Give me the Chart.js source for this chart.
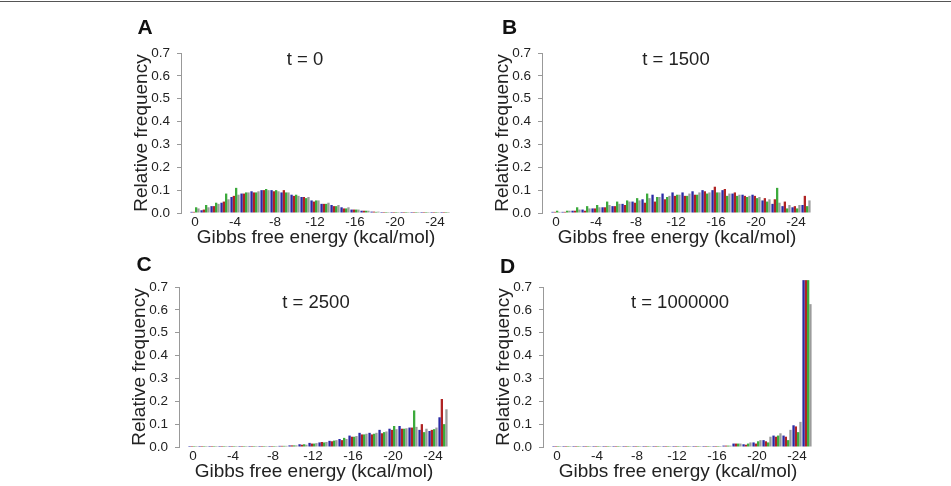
<!DOCTYPE html>
<html>
<head>
<meta charset="utf-8">
<script src="https://cdn.jsdelivr.net/npm/chart.js@4.4.1/dist/chart.umd.min.js"></script>
<style>
  html, body { margin: 0; padding: 0; background: #fff; }
  body { width: 951px; height: 486px; position: relative; overflow: hidden; font-family: "Liberation Sans", Arial, sans-serif; color: #222; }
  .frame { position: absolute; left: 0; top: 1px; width: 951px; height: 0; border-top: 1px solid #555; }
  .pan { position: absolute; }
  .lbl { position: absolute; transform: translate(-50%, -50%); line-height: 1; white-space: nowrap; }
  .letter { font-weight: bold; font-size: 21px; color: #111; }
  .ttl { font-size: 18.5px; color: #222; }
</style>
</head>
<body>
<div class="frame"></div>
<canvas id="cA" class="pan" width="340" height="240" style="left:125px;top:10px"></canvas>
<canvas id="cB" class="pan" width="340" height="240" style="left:486px;top:10px"></canvas>
<canvas id="cC" class="pan" width="340" height="240" style="left:123px;top:244px"></canvas>
<canvas id="cD" class="pan" width="340" height="240" style="left:487px;top:244px"></canvas>

<div class="lbl letter" style="left:145px;top:25.5px">A</div>
<div class="lbl letter" style="left:509.5px;top:25.5px">B</div>
<div class="lbl letter" style="left:144px;top:263px">C</div>
<div class="lbl letter" style="left:507.5px;top:265px">D</div>

<div class="lbl ttl" style="left:305px;top:59px">t = 0</div>
<div class="lbl ttl" style="left:676px;top:59px">t = 1500</div>
<div class="lbl ttl" style="left:316px;top:302px">t = 2500</div>
<div class="lbl ttl" style="left:680px;top:302px">t = 1000000</div>

<script>
// ---- data ----
const bins = [0,-1,-2,-3,-4,-5,-6,-7,-8,-9,-10,-11,-12,-13,-14,-15,-16,-17,-18,-19,-20,-21,-22,-23,-24,-25];
const xTicks = [0,-4,-8,-12,-16,-20,-24];
const yTicks = [0,0.1,0.2,0.3,0.4,0.5,0.6,0.7];
const seriesNames = ['Run 1','Run 2','Run 3','Run 4'];

// t = 0
const t0Blue  = [0.005,0.012,0.03,0.045,0.07,0.085,0.095,0.1,0.1,0.09,0.08,0.07,0.055,0.04,0.035,0.025,0.015,0.01,0.006,0.004,0.002,0.001,0.001,0.0005,0.0005,0.0005];
const t0Red   = [0.005,0.015,0.03,0.05,0.075,0.085,0.09,0.1,0.095,0.1,0.075,0.07,0.05,0.04,0.03,0.02,0.015,0.01,0.006,0.003,0.002,0.001,0.001,0.0005,0.0005,0.0005];
const t0Green = [0.025,0.035,0.045,0.085,0.11,0.09,0.09,0.105,0.1,0.09,0.08,0.065,0.055,0.04,0.03,0.02,0.015,0.01,0.005,0.003,0.002,0.001,0.001,0.0005,0.0005,0.0005];
const t0Gray  = [0.02,0.025,0.04,0.06,0.08,0.09,0.095,0.1,0.095,0.09,0.075,0.07,0.055,0.045,0.035,0.025,0.015,0.01,0.006,0.004,0.002,0.001,0.001,0.0005,0.0005,0.0005];

// t = 1500
const t1500Blue  = [0.005,0.005,0.01,0.015,0.02,0.025,0.03,0.04,0.05,0.06,0.08,0.085,0.09,0.09,0.095,0.1,0.1,0.1,0.085,0.08,0.08,0.055,0.04,0.03,0.025,0.035];
const t1500Red   = [0.005,0.005,0.01,0.01,0.02,0.025,0.03,0.035,0.045,0.045,0.05,0.06,0.075,0.075,0.08,0.095,0.115,0.105,0.09,0.075,0.075,0.065,0.06,0.05,0.03,0.075];
const t1500Green = [0.01,0.01,0.025,0.03,0.035,0.05,0.05,0.055,0.065,0.085,0.07,0.07,0.08,0.075,0.08,0.085,0.09,0.075,0.075,0.07,0.065,0.05,0.11,0.02,0.02,0.03];
const t1500Gray  = [0.005,0.01,0.015,0.02,0.025,0.035,0.04,0.05,0.055,0.065,0.07,0.075,0.08,0.085,0.09,0.09,0.09,0.085,0.08,0.075,0.07,0.06,0.045,0.035,0.035,0.055];

// t = 2500
const t2500Blue  = [0.001,0.001,0.001,0.001,0.001,0.001,0.001,0.002,0.003,0.005,0.007,0.012,0.018,0.02,0.027,0.035,0.05,0.062,0.062,0.075,0.08,0.092,0.085,0.075,0.07,0.13];
const t2500Red   = [0.001,0.001,0.001,0.001,0.001,0.001,0.001,0.002,0.003,0.005,0.007,0.01,0.015,0.022,0.025,0.03,0.045,0.055,0.055,0.06,0.075,0.08,0.085,0.1,0.075,0.21];
const t2500Green = [0.001,0.001,0.001,0.001,0.001,0.001,0.001,0.002,0.003,0.005,0.007,0.012,0.015,0.02,0.028,0.04,0.045,0.055,0.058,0.065,0.092,0.08,0.16,0.065,0.078,0.1];
const t2500Gray  = [0.001,0.001,0.001,0.001,0.001,0.001,0.001,0.002,0.003,0.005,0.007,0.01,0.017,0.022,0.03,0.035,0.048,0.058,0.062,0.068,0.078,0.082,0.088,0.08,0.085,0.165];

// t = 1000000
const t1e6Blue  = [0.001,0.001,0.001,0.001,0.001,0.001,0.001,0.001,0.001,0.001,0.001,0.001,0.001,0.001,0.001,0.001,0.003,0.006,0.015,0.012,0.02,0.03,0.05,0.05,0.095,0.73];
const t1e6Red   = [0.001,0.001,0.001,0.001,0.001,0.001,0.001,0.001,0.001,0.001,0.001,0.001,0.001,0.001,0.001,0.001,0.003,0.006,0.015,0.01,0.015,0.025,0.045,0.045,0.09,0.73];
const t1e6Green = [0.001,0.001,0.001,0.001,0.001,0.001,0.001,0.001,0.001,0.001,0.001,0.001,0.001,0.001,0.001,0.001,0.003,0.006,0.015,0.015,0.025,0.02,0.05,0.03,0.065,0.73];
const t1e6Gray  = [0.001,0.001,0.001,0.001,0.001,0.001,0.001,0.001,0.001,0.001,0.001,0.001,0.001,0.001,0.001,0.001,0.003,0.006,0.015,0.02,0.03,0.045,0.06,0.075,0.11,0.625];

// ---- styles ----
const seriesColors = ['#2a2aa5', '#b02424', '#3caa3c', '#9c9c9c'];
const FONT = '"Liberation Sans", Arial, sans-serif';
const tickFont = { family: FONT, size: 13.5 };
const titleFont = { family: FONT, size: 19 };

function makeChart(id, series) {
  return new Chart(document.getElementById(id), {
    type: 'bar',
    data: {
      datasets: series.map((vals, i) => ({
        label: seriesNames[i],
        data: bins.map((b, j) => ({ x: b, y: vals[j] })),
        backgroundColor: seriesColors[i],
        borderWidth: 0,
        minBarLength: 1,
        clip: false,
        categoryPercentage: 0.92,
        barPercentage: 1.0
      }))
    },
    options: {
      responsive: false,
      animation: false,
      layout: { padding: { top: 43, right: 14, bottom: 0, left: 0 } },
      plugins: { legend: { display: false }, tooltip: { enabled: false } },
      scales: {
        x: {
          type: 'linear', reverse: true, min: -25.6, max: 1.4, offset: false,
          afterBuildTicks: s => { s.ticks = xTicks.map(v => ({ value: v })); },
          afterFit: s => { s.height = 37; },
          grid: { display: false, drawTicks: false, offset: false },
          border: { display: false },
          ticks: { font: tickFont, color: '#222', padding: 1, maxRotation: 0, autoSkip: false,
                   callback: v => String(v) },
          title: { display: true, text: 'Gibbs free energy (kcal/mol)', font: titleFont, color: '#222',
                   padding: { top: 0, bottom: 0.6 } }
        },
        y: {
          min: 0, max: 0.7,
          afterBuildTicks: s => { s.ticks = yTicks.map(v => ({ value: v })); },
          afterFit: s => { s.width = 56; },
          grid: { display: true, drawOnChartArea: false, drawTicks: true, tickLength: 4, color: '#999' },
          border: { display: true, color: '#999', width: 1 },
          ticks: { font: tickFont, color: '#222', padding: 7, callback: v => v.toFixed(1) },
          title: { display: true, text: 'Relative frequency', font: titleFont, color: '#222',
                   padding: { top: 5.6, bottom: 0 } }
        }
      }
    }
  });
}

makeChart('cA', [t0Blue, t0Red, t0Green, t0Gray]);
makeChart('cB', [t1500Blue, t1500Red, t1500Green, t1500Gray]);
makeChart('cC', [t2500Blue, t2500Red, t2500Green, t2500Gray]);
makeChart('cD', [t1e6Blue, t1e6Red, t1e6Green, t1e6Gray]);
</script>
</body>
</html>
